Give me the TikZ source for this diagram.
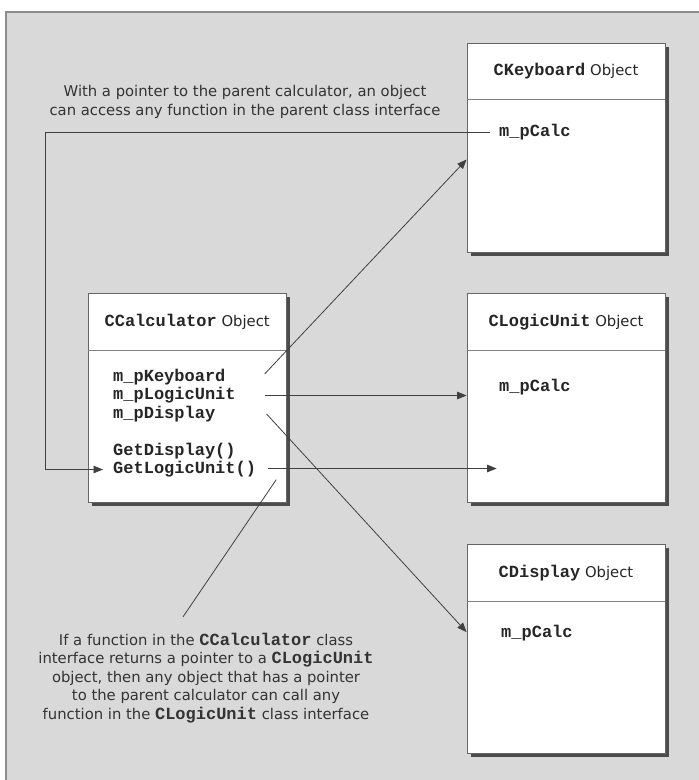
\documentclass[tikz,border=0pt]{standalone}
\usepackage{fontspec}
\setmainfont{DejaVu Sans}
\setmonofont{Liberation Mono}
\usetikzlibrary{positioning,arrows.meta,calc,shadows}

\newcommand{\code}[1]{{\ttfamily\bfseries\fontsize{17}{19}\selectfont #1}}

\begin{document}
\begin{tikzpicture}[
		x=1pt, y=-1pt,
		node distance=41pt,
		objbox/.style={
			draw=black!60,
			line width=0.8pt,
			fill=white,
			minimum width=198pt,
			minimum height=209pt,
			drop shadow={shadow xshift=3.5pt,shadow yshift=-3.5pt,opacity=1,fill=black!70}
		},
		head/.style={inner sep=2pt, text=black!85, font=\fontsize{14.8}{19}\selectfont},
		member/.style={inner sep=2pt, anchor=west, text=black!85, font=\ttfamily\bfseries\fontsize{17}{19}\selectfont},
		note/.style={align=center, inner sep=2pt, text=black!80, font=\fontsize{14.8}{18.5}\selectfont},
		divider/.style={draw=black!50, line width=0.8pt},
		line/.style={draw=black!75, line width=0.8pt},
		link/.style={line, -{Triangle[length=9.5pt,width=7.5pt]}}
		]
		
		\useasboundingbox (0,0) rectangle (699,780);
		\fill[black!15] (6,12) rectangle (699,780);
		\draw[black!45, line width=1.5pt] (6,780) |- (699,12);
		
		% the four objects
		\node[objbox] (kbd) at (566,147.5) {};
		\node[objbox,below=of kbd] (lu) {};
		\node[objbox,below=of lu] (disp) {};
		\node[objbox,left=180pt of lu] (calc) {};
		
		\node[head] (kbdh) at ([yshift=-28.5pt]kbd.north) {\code{CKeyboard} Object};
		\node[head] (luh) at ([yshift=-28.5pt]lu.north) {\code{CLogicUnit} Object};
		\node[head] (disph) at ([yshift=-28.5pt]disp.north) {\code{CDisplay} Object};
		\node[head] (calch) at ([yshift=-28.5pt]calc.north) {\code{CCalculator} Object};
		
		\draw[divider] ([yshift=-57pt]kbd.north west) -- ([yshift=-57pt]kbd.north east);
		\draw[divider] ([yshift=-57pt]lu.north west) -- ([yshift=-57pt]lu.north east);
		\draw[divider] ([yshift=-57pt]disp.north west) -- ([yshift=-57pt]disp.north east);
		\draw[divider] ([yshift=-57pt]calc.north west) -- ([yshift=-57pt]calc.north east);
		
		\node[member] (pc1) at (497,132) {m\_pCalc};
		\node[member] (pc2) at (497,387) {m\_pCalc};
		\node[member] (pc3) at (499,633) {m\_pCalc};
		
		\node[member] (kb) at (111,377) {m\_pKeyboard};
		\node[member] (lg) at (111,395.5) {m\_pLogicUnit};
		\node[member] (dp) at (111,414) {m\_pDisplay};
		\node[member] (gd) at (111,451) {GetDisplay()};
		\node[member] (glu) at (111,469.5) {GetLogicUnit()};
		
		% notes
		\node[note] (top) at (245,102)
		{With a pointer to the parent calculator, an object\\
			can access any function in the parent class interface};
		\node[note] (bottom) at (206,678)
		{If a function in the \code{CCalculator} class\\
			interface returns a pointer to a \code{CLogicUnit}\\
			object, then any object that has a pointer\\
			to the parent calculator can call any\\
			function in the \code{CLogicUnit} class interface};
		
		% pointers
		\coordinate (rail) at (45,131);
		\draw[link,shorten <=7pt,shorten >=8pt] (pc1.west) -- (pc1.west -| rail) |- (glu.west);
		\draw[link] ($(kb -| calc.east)+(-22,-3)$) -- ([yshift=-12pt]kbd.west);
		\draw[link] ($(lg -| calc.east)+(-22,0)$) -- (lg -| lu.west);
		\draw[link] ($(dp -| calc.east)+(-20,0)$) -- ([yshift=17pt]disp.west);
		\draw[link] ($(glu -| calc.east)+(-19,-1)$) -- ($(glu -| lu.west)+(30,-1)$);
		\draw[line] ([xshift=18pt]glu.south east) -- ([xshift=-23pt,yshift=14pt]bottom.north);
		
	\end{tikzpicture}
\end{document}
